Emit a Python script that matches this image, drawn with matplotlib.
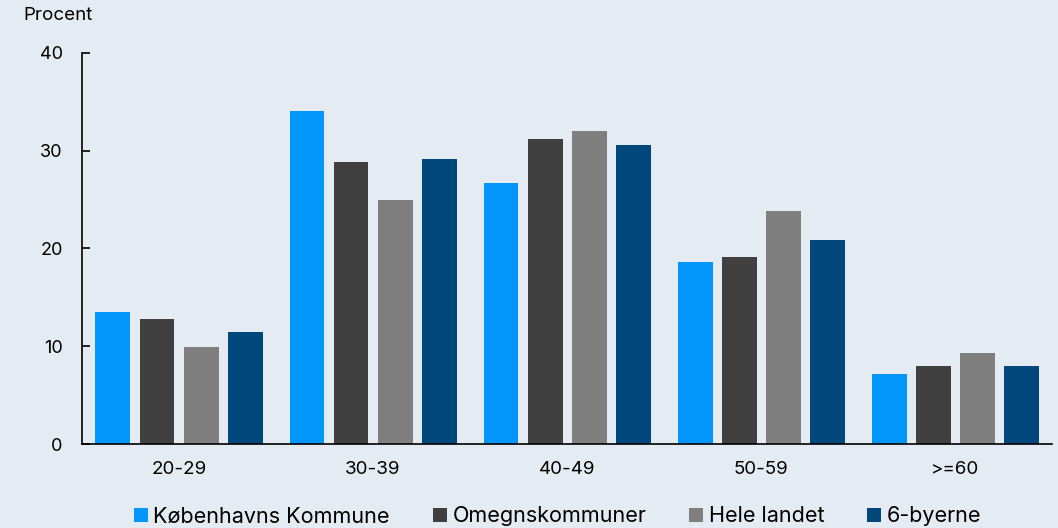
import numpy as np
import matplotlib.pyplot as plt
from matplotlib.patches import Patch

plt.rcParams['font.family'] = ['Inter', 'DejaVu Sans']

# aldersgrupper og andele (procent)
groups = ['20-29', '30-39', '40-49', '50-59', '>=60']
series_names = ['Københavns Kommune', 'Omegnskommuner', 'Hele landet', '6-byerne']
kbh = [13.5, 34.0, 26.7, 18.6, 7.2]
omegn = [12.8, 28.8, 31.2, 19.1, 8.0]
hele = [9.9, 25.0, 32.0, 23.8, 9.3]
seks = [11.5, 29.1, 30.6, 20.9, 8.0]

colors = ['#0096fa', '#404040', '#7f7f7f', '#00487c']
bg = '#e4ebf2'

fig = plt.figure(figsize=(10.58, 5.28), dpi=100, facecolor=bg)
ax = fig.add_axes([0.0775, 0.159, 0.917, 0.741], facecolor=bg)

x = np.arange(len(groups))
step = 0.227
width = 0.18
for i, (vals, c) in enumerate(zip([kbh, omegn, hele, seks], colors)):
    ax.bar(x + (i - 1.5) * step, vals, width, color=c)

ax.set_xlim(-0.5, len(groups) - 0.5)
ax.set_ylim(0, 40)
ax.set_yticks([0, 10, 20, 30, 40])
ax.set_xticks(x)
ax.set_xticklabels(groups)
ax.tick_params(axis='y', direction='in', length=6, width=1.2, labelsize=13, pad=14)
ax.tick_params(axis='x', length=0, labelsize=13.5, pad=12)
for s in ['top', 'right']:
    ax.spines[s].set_visible(False)
ax.spines['left'].set_linewidth(1.2)
ax.spines['bottom'].set_linewidth(1.2)

fig.text(0.022, 0.97, 'Procent', fontsize=13.5, ha='left', va='center')

handles = [Patch(facecolor=c) for c in colors]
fig.legend(handles, series_names, loc='center', bbox_to_anchor=(0.527, 0.022),
           ncol=4, frameon=False, fontsize=15.5, handlelength=0.65, handleheight=0.65,
           handletextpad=0.25, columnspacing=2.0)

plt.savefig('out.png', dpi=100, facecolor=bg)
